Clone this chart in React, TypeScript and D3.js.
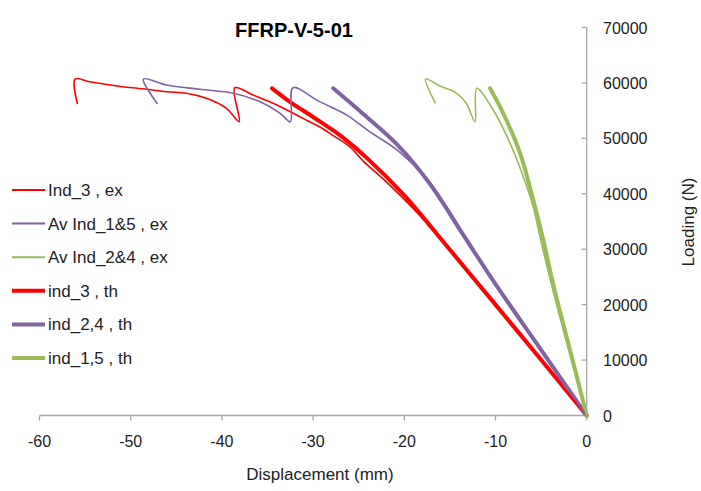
import React from "react";
import * as d3 from "d3";

const W = 701, H = 491;

type P = [number, number];

const ind3Ex: P[] = [
  [-55.85, 56300], [-56.1, 60700], [-54.5, 60200], [-51.5, 59440], [-48.2, 58850],
  [-46.05, 58410], [-43.9, 58130], [-41.7, 57220], [-39.5, 55420], [-38.1, 53000],
  [-38.6, 59130], [-36.6, 57820], [-34.4, 56320], [-32.5, 54800], [-31.1, 53610],
  [-29.2, 52000], [-27.8, 50500], [-26.0, 48500], [-24.5, 45900], [-22, 42200],
  [-19, 37300], [-16, 31800], [-13, 25800], [-9.5, 18900], [-5.5, 11000], [-2.5, 5000], [0, 0],
];
const av15Ex: P[] = [
  [-47.1, 56300], [-48.6, 60700], [-46.05, 59620], [-42.4, 58850], [-38.75, 58130],
  [-35.8, 56600], [-33.6, 54520], [-32.5, 53000], [-32.2, 59130], [-29.6, 56900],
  [-28.1, 55700], [-26.3, 54200], [-23.8, 51200], [-20.8, 47900], [-17.9, 43300],
  [-15.35, 37600], [-13.2, 32000], [-11.3, 26840], [-8.5, 20000], [-5.86, 13620],
  [-2.8, 6600], [0, 0],
];
const av24Ex: P[] = [
  [-16.6, 56400], [-17.65, 60700], [-16.1, 59440], [-14.25, 58130], [-13.2, 56320],
  [-12.25, 53000], [-12.06, 59030], [-10.24, 55110], [-8.4, 49100], [-6.95, 43080],
  [-5.86, 37670], [-5.12, 32200], [-3.66, 22300], [-1.6, 9600], [0, 0],
];
const ind3Th: P[] = [
  [-34.5, 59030], [-32.5, 56550], [-30, 53850], [-27, 50500], [-24, 46300],
  [-20, 39700], [-15, 29900], [-10, 20000], [-5, 10050], [0, 0],
];
const ind24Th: P[] = [
  [-27.8, 59030], [-24.5, 54400], [-20.8, 48900], [-17.2, 41800], [-13.5, 32500],
  [-10, 23700], [-5, 11850], [0, 0],
];
const ind15Th: P[] = [
  [-10.6, 59030], [-9.15, 54520], [-7.3, 47300], [-5.86, 38880], [-4.76, 31660],
  [-3.66, 23600], [-1.5, 9700], [0, 0],
];

const xTicks = [-60, -50, -40, -30, -20, -10, 0];
const yTicks = [0, 10000, 20000, 30000, 40000, 50000, 60000, 70000];

const seriesNames = ["Ind_3 , ex", "Av Ind_1&5 , ex", "Av Ind_2&4 , ex", "ind_3 , th", "ind_2,4 , th", "ind_1,5 , th"];
const seriesData = [ind3Ex, av15Ex, av24Ex, ind3Th, ind24Th, ind15Th];
const seriesColors = ["#ff0000", "#8064a2", "#9bbb59", "#ff0000", "#8064a2", "#9bbb59"];
const seriesWidths = [1.6, 1.6, 1.6, 4, 4, 4];

const FONT = "'Liberation Sans', Arial, sans-serif";

export default function App() {
  const x = d3.scaleLinear().domain([-60, 0]).range([39.5, 586.7]);
  const y = d3.scaleLinear().domain([0, 70000]).range([415.5, 27.5]);
  const line = d3.line<P>().x((d) => x(d[0])).y((d) => y(d[1])).curve(d3.curveCatmullRom.alpha(0.5));
  const axisColor = "#a6a6a6";
  const order = [3, 4, 5, 0, 1, 2];
  return (
    <svg width={W} height={H} style={{ position: "absolute", left: 0, top: 0, background: "#fff" }} fontFamily={FONT}>
      <rect width={W} height={H} fill="#fff" />
      <text x={294} y={37} textAnchor="middle" fontWeight="bold" fontSize={20} fill="#000">FFRP-V-5-01</text>
      <line x1={x(-60)} x2={x(0)} y1={y(0)} y2={y(0)} stroke={axisColor} strokeWidth={1.3} />
      {xTicks.map((t) => (
        <g key={t}>
          <line x1={x(t)} x2={x(t)} y1={y(0)} y2={y(0) + 5} stroke={axisColor} strokeWidth={1.3} />
          <text x={x(t)} y={y(0) + 31} textAnchor="middle" fontSize={16} fill="#222">{t}</text>
        </g>
      ))}
      <line x1={x(0)} x2={x(0)} y1={y(0)} y2={y(70000)} stroke={axisColor} strokeWidth={1.3} />
      {yTicks.map((t) => (
        <g key={t}>
          <line x1={x(0) - 5} x2={x(0)} y1={y(t)} y2={y(t)} stroke={axisColor} strokeWidth={1.3} />
          <text x={603} y={y(t) + 6} textAnchor="start" fontSize={16} fill="#222">{t}</text>
        </g>
      ))}
      <text x={320} y={480} textAnchor="middle" fontSize={17} fill="#222">Displacement (mm)</text>
      <text transform={`translate(694,222) rotate(-90)`} textAnchor="middle" fontSize={17} fill="#222">Loading (N)</text>
      {order.map((i) => (
        <path key={i} d={line(seriesData[i]) || ""} fill="none" stroke={seriesColors[i]} strokeWidth={seriesWidths[i]} strokeLinejoin="round" strokeLinecap="round" />
      ))}
      {seriesNames.map((n, i) => {
        const yy = 190 + i * 33.6;
        return (
          <g key={n}>
            <line x1={12} x2={45} y1={yy} y2={yy} stroke={seriesColors[i]} strokeWidth={i < 3 ? 2 : 4} />
            <text x={48} y={yy + 6} fontSize={17} fill="#222">{n}</text>
          </g>
        );
      })}
    </svg>
  );
}
